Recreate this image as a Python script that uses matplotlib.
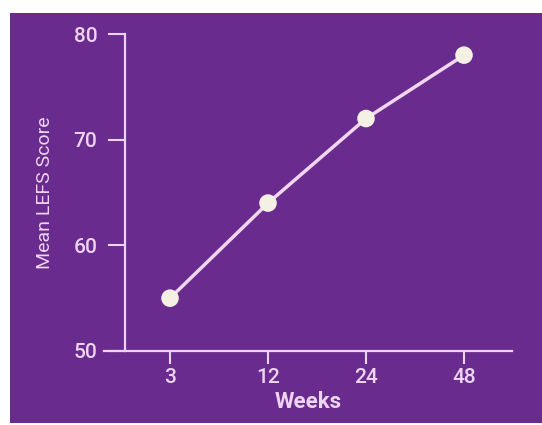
import matplotlib
matplotlib.use("Agg")
import matplotlib.pyplot as plt
from matplotlib.patches import Rectangle

weeks = ["3", "12", "24", "48"]
mean_lefs = [55, 64, 72, 78]
y_ticks = [50, 60, 70, 80]

bg = "#6a2b8e"
fg = "#ecd4f2"
font = "Roboto"

fig = plt.figure(figsize=(5.42, 4.25), dpi=100)
fig.patch.set_facecolor("white")
# purple panel, leaving a thin white edge at top and left
fig.patches.append(Rectangle((10 / 542, 2 / 425), 532 / 542, 410 / 425,
                             transform=fig.transFigure, facecolor=bg,
                             edgecolor="none", zorder=-5))

ax = fig.add_axes([104 / 542, 74 / 425, 408 / 542, 317 / 425])
ax.set_zorder(2)
ax.set_facecolor("none")

x = list(range(len(weeks)))
ax.plot(x, mean_lefs, color="#f2d6f0", lw=2.5, zorder=2, clip_on=False)
ax.scatter(x, mean_lefs, s=160, marker="o", color="#f4f1e4",
           edgecolors="none", zorder=3, clip_on=False)

ax.set_xlim(-66 / 98, 3 + 48 / 98)
ax.set_ylim(50, 80)
ax.set_xticks(x)
ax.set_xticklabels(weeks)
ax.set_yticks(y_ticks)

for s in ["top", "right"]:
    ax.spines[s].set_visible(False)
ax.spines["left"].set_position(("data", -45 / 98))
for s in ["left", "bottom"]:
    ax.spines[s].set_color(fg)
    ax.spines[s].set_linewidth(1.6)

ax.tick_params(axis="y", colors=fg, length=12, width=1.5, pad=8,
               labelsize=15)
ax.tick_params(axis="x", colors=fg, length=9, width=1.5, pad=3,
               labelsize=15)
for lab in ax.get_xticklabels() + ax.get_yticklabels():
    lab.set_family(font)
    lab.set_fontweight("medium")

ax.set_ylabel("Mean LEFS Score", color=fg, fontsize=14, family=font,
              labelpad=14)
ax.set_xlabel("Weeks", color=fg, fontsize=16, family=font,
              fontweight="bold", labelpad=3)

fig.savefig("out.png", dpi=100)
